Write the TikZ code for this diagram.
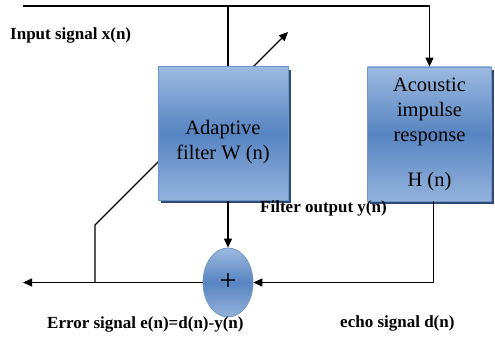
\documentclass[tikz,border=0pt]{standalone}
\usepackage{fontspec}
\setmainfont{Liberation Serif}
\usepackage{xcolor}
\usepackage{tikz}
\usetikzlibrary{positioning,calc,arrows.meta,shapes.geometric}

\begin{document}
\begin{tikzpicture}[
    x=1pt, y=-1pt,
    blk/.style={rectangle, draw=boxline, line width=0.8pt,
                top color=boxtop, bottom color=boxbot, middle color=boxmid,
                minimum width=130pt, minimum height=134pt, inner sep=0pt},
    blktxt/.style={font=\fontsize{20.5}{25}\selectfont, align=center},
    sig/.style={font=\fontsize{17}{20}\selectfont\bfseries, inner sep=0pt},
    wire/.style={line width=1.1pt},
    flow/.style={wire, -{Triangle[length=9pt,width=8pt]}},
  ]
  \definecolor{boxtop}{HTML}{9DBAE0}
  \definecolor{boxmid}{HTML}{5784C1}
  \definecolor{boxbot}{HTML}{94B3DC}
  \definecolor{boxline}{HTML}{6F95C9}
  \definecolor{boxshade}{HTML}{2E4A78}

  \useasboundingbox (0,0) rectangle (495,337);

  % Puntos libres de las conexiones
  \coordinate (xin) at (23,6);
  \coordinate (eout) at (23,282.5);
  \coordinate (tap) at (95,282.5);
  \coordinate (knee) at (95,225);
  \coordinate (tip) at (288,32);
  % Flecha de adaptacion (queda detras del filtro)
  \draw[flow] (tap) -- (knee) -- (tip);

  % ========================== BLOQUES ========================
  \fill[boxshade] (161,70) rectangle (291,203);
  \node[blk, label={[blktxt, yshift=-9pt]center:{Adaptive\\filter W (n)}}]
    (filt) at (223,133.5) {};
  \fill[boxshade] (370,70) rectangle (494,204);
  \node[blk, blktxt, minimum width=124pt] (aco) at (429.5,134) {%
    Acoustic\\impulse\\response\\[20pt]H (n)};
  \node[ellipse, draw=boxline, line width=0.8pt,
        top color=boxtop, bottom color=boxbot, middle color=boxmid,
        minimum width=50pt, minimum height=69pt, inner sep=0pt,
        font=\fontsize{30}{30}\selectfont] (sum) at (228,282.5) {+};

  % ========================= ETIQUETAS =======================
  \node[sig, anchor=base west] (lx) at (10,40) {Input signal x(n)};
  \node[sig, anchor=base west] (ly) at (260,212) {Filter output y(n)};
  \node[sig, anchor=base west] (le) at (47,328) {Error signal e(n)=d(n)-y(n)};
  \node[sig, anchor=base west] (ld) at (340,327) {echo signal d(n)};

  % ========================== FLECHAS ========================
  % Senal de entrada hacia ambos bloques
  \draw[flow] (xin) -| (aco.north);
  \draw[wire] (filt.north -| sum) -- (sum |- xin);
  % Salida del filtro y eco hacia el sumador
  \draw[flow] (filt.south -| sum) -- (sum.north);
  \draw[flow] ([xshift=4pt]aco.south) |- (sum.east);
  % Salida del error
  \draw[flow] (sum.west) -- (eout);
\end{tikzpicture}
\end{document}
